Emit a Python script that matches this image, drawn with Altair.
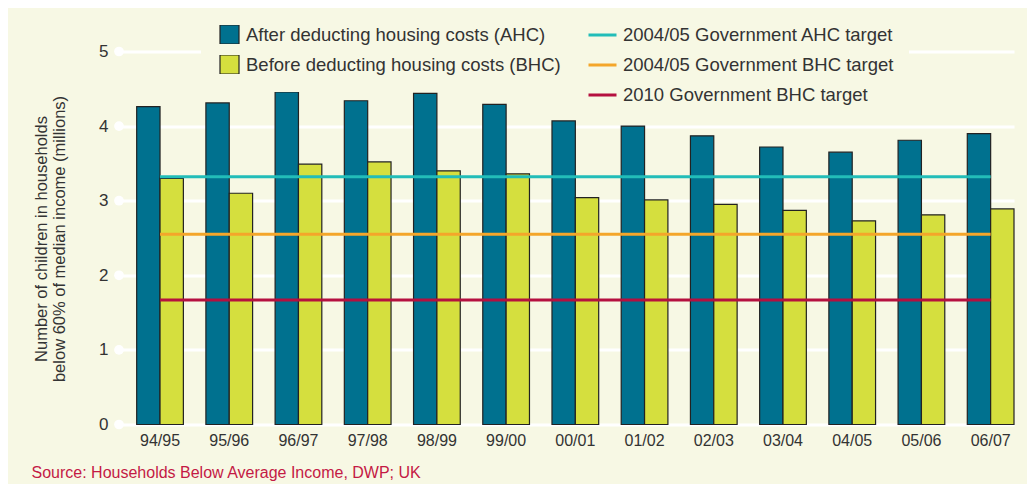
import altair as alt
import pandas as pd

# ---- data ----
years = ["94/95", "95/96", "96/97", "97/98", "98/99", "99/00", "00/01",
         "01/02", "02/03", "03/04", "04/05", "05/06", "06/07"]
ahc = [4.26, 4.31, 4.46, 4.34, 4.44, 4.29, 4.07, 4.00, 3.87, 3.72, 3.65, 3.81, 3.90]
bhc = [3.30, 3.10, 3.49, 3.52, 3.40, 3.36, 3.04, 3.01, 2.95, 2.87, 2.73, 2.81, 2.89]
series = ["After deducting housing costs (AHC)", "Before deducting housing costs (BHC)"]
series_colors = ["#00718f", "#d5df3e"]
targets = ["2004/05 Government AHC target", "2004/05 Government BHC target",
           "2010 Government BHC target"]
target_values = [3.32, 2.55, 1.67]
target_colors = ["#22bdb8", "#f4a62a", "#b5103f"]
y_ticks = [0, 1, 2, 3, 4, 5]
source_text = "Source: Households Below Average Income, DWP; UK"
y_title = ["Number of children in households", "below 60% of median income (millions)"]

CREAM = "#f7f8e4"
TEXT = "#333333"
FONT = "Liberation Sans"

bars_df = pd.DataFrame({
    "year": years * 2,
    "series": [series[0]] * len(years) + [series[1]] * len(years),
    "value": ahc + bhc,
})
lines_df = pd.DataFrame({
    "year": [y for _ in targets for y in (years[0], years[-1])],
    "target": [t for t in targets for _ in range(2)],
    "value": [v for v in target_values for _ in range(2)],
})
ticks_df = pd.DataFrame({"value": y_ticks})

x_scale = alt.Scale(domain=years, paddingInner=0.3253, paddingOuter=0.1277, align=1)
y_scale = alt.Scale(domain=[0, 5], nice=False)

x_axis = alt.Axis(title=source_text, labelAngle=0, labelFontSize=16,
                  labelColor=TEXT, labelPadding=8, domain=False, ticks=False,
                  grid=False, titleColor="#c41a45", titleFontSize=16,
                  titleFontWeight="normal", titleAnchor="start",
                  titleAlign="left", titleBaseline="alphabetic",
                  titleX=-88, titleY=52.5)
y_axis = alt.Axis(values=y_ticks, grid=True, gridColor="white", gridWidth=3,
                  gridOpacity=1, domain=False, ticks=False, labelFontSize=17,
                  labelColor=TEXT, labelPadding=11, title=y_title,
                  titleFontSize=16.5, titleFontWeight="normal", titleColor=TEXT,
                  titleAngle=270, titleAlign="center", titleBaseline="middle",
                  titleLineHeight=18, titleX=-78, titleY=187)

bars = alt.Chart(bars_df).mark_bar(stroke="#222222", strokeWidth=1.2).encode(
    x=alt.X("year:N", scale=x_scale, sort=years, axis=x_axis, title=source_text),
    xOffset=alt.XOffset("series:N", sort=series,
                        scale=alt.Scale(paddingInner=0, paddingOuter=0)),
    y=alt.Y("value:Q", scale=y_scale, axis=y_axis, title=y_title),
    fill=alt.Fill("series:N", sort=series,
                  scale=alt.Scale(domain=series, range=series_colors),
                  legend=alt.Legend(title=None, orient="none", legendX=100 - 18,
                                    legendY=-26.5 - 18, padding=18, fillColor=CREAM,
                                    symbolType="square", symbolSize=361,
                                    symbolStrokeColor="#222222", symbolStrokeWidth=1.2,
                                    symbolOpacity=1, labelFontSize=18.5,
                                    labelColor=TEXT, labelOffset=6, rowPadding=11,
                                    clipHeight=19, labelLimit=500, direction="vertical")),
)

lines = alt.Chart(lines_df).mark_line(strokeWidth=3).encode(
    x=alt.X("year:N", scale=x_scale, sort=years, bandPosition=0.5, axis=x_axis,
            title=source_text),
    y=alt.Y("value:Q", scale=y_scale, axis=y_axis, title=y_title),
    stroke=alt.Stroke("target:N", sort=targets,
                      scale=alt.Scale(domain=targets, range=target_colors),
                      legend=alt.Legend(title=None, orient="none", legendX=468 - 15,
                                        legendY=-26 - 15, padding=15, fillColor=CREAM,
                                        symbolType="stroke", symbolSize=784,
                                        symbolStrokeWidth=3, labelFontSize=18.5,
                                        labelColor=TEXT, labelOffset=5, rowPadding=11,
                                        clipHeight=19, labelLimit=500,
                                        direction="vertical")),
)

dots = alt.Chart(ticks_df).mark_circle(color="white", opacity=1, size=95).encode(
    x=alt.value(0),
    y=alt.Y("value:Q", scale=y_scale, axis=y_axis, title=y_title),
)

chart = alt.layer(bars, lines, dots).properties(
    width=895,
    height=373,
    padding={"left": 111, "top": 43.5, "right": 13, "bottom": 59.5},
    autosize=alt.AutoSizeParams(type="none"),
    background=CREAM,
).configure(font=FONT).configure_view(stroke=None)

chart.save("out.html", embed_options={"renderer": "svg", "actions": False})
